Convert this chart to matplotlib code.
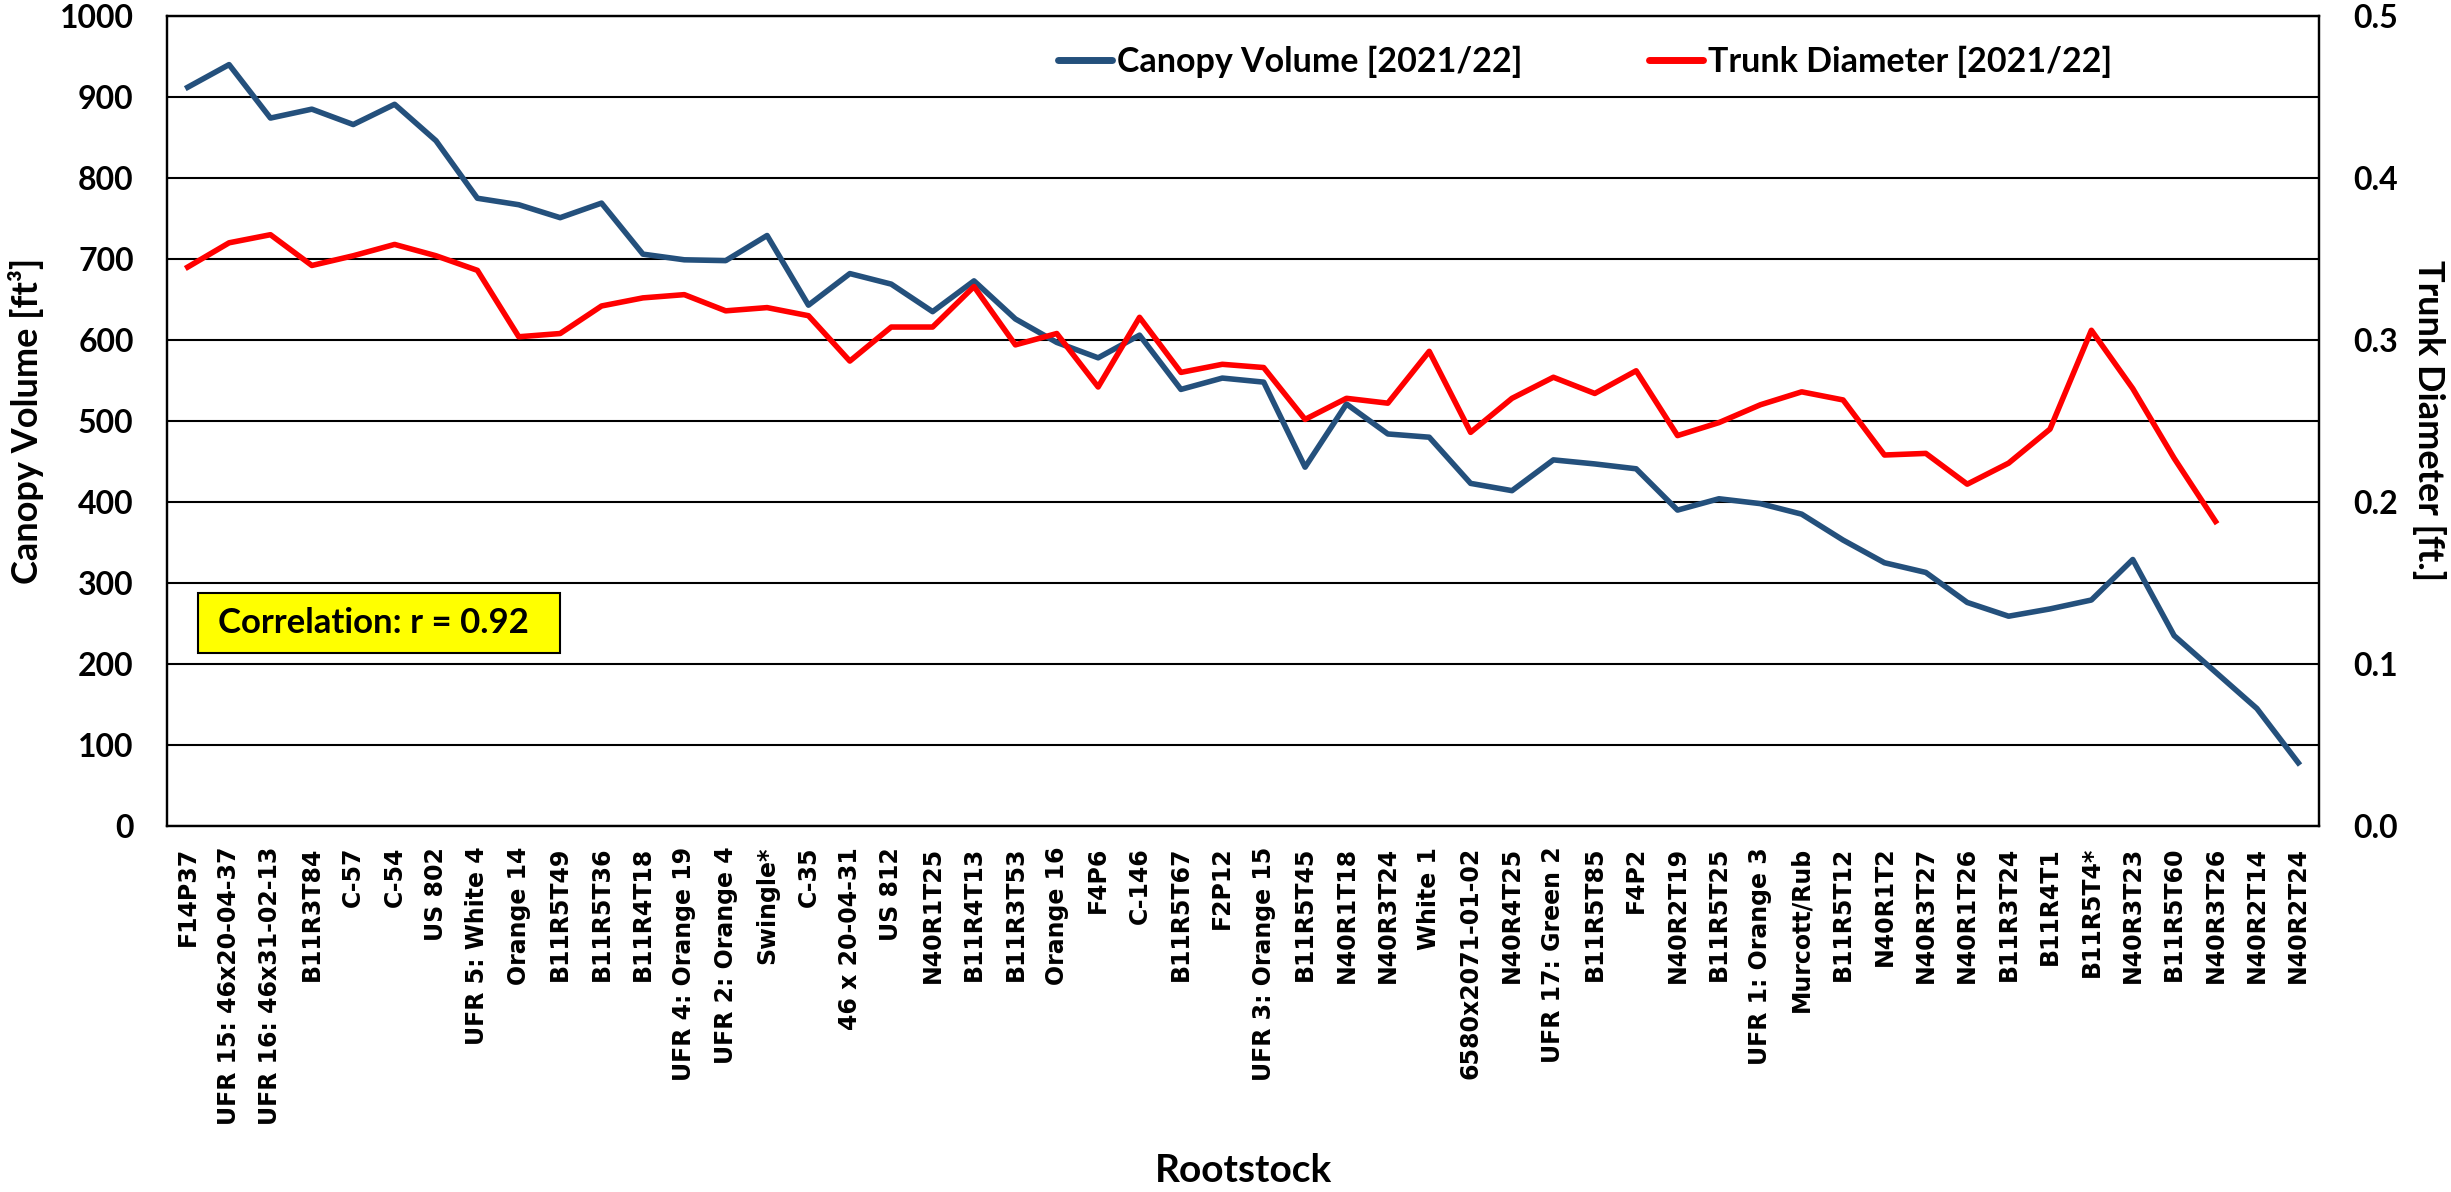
import numpy as np
import matplotlib
matplotlib.use("Agg")
import matplotlib.pyplot as plt
from matplotlib.lines import Line2D
from matplotlib.patches import Rectangle

plt.rcParams['font.family'] = ['Lato', 'DejaVu Sans']
plt.rcParams['font.weight'] = 'bold'

rootstocks = [
    "F14P37", "UFR 15: 46x20-04-37", "UFR 16: 46x31-02-13", "B11R3T84", "C-57",
    "C-54", "US 802", "UFR 5: White 4", "Orange 14", "B11R5T49",
    "B11R5T36", "B11R4T18", "UFR 4: Orange 19", "UFR 2: Orange 4", "Swingle*",
    "C-35", "46 x 20-04-31", "US 812", "N40R1T25", "B11R4T13",
    "B11R3T53", "Orange 16", "F4P6", "C-146", "B11R5T67",
    "F2P12", "UFR 3: Orange 15", "B11R5T45", "N40R1T18", "N40R3T24",
    "White 1", "6580x2071-01-02", "N40R4T25", "UFR 17: Green 2", "B11R5T85",
    "F4P2", "N40R2T19", "B11R5T25", "UFR 1: Orange 3", "Murcott/Rub",
    "B11R5T12", "N40R1T2", "N40R3T27", "N40R1T26", "B11R3T24",
    "B11R4T1", "B11R5T4*", "N40R3T23", "B11R5T60", "N40R3T26",
    "N40R2T14", "N40R2T24",
]

# canopy volume [ft3], left axis
canopy = [912, 940, 874, 885, 866, 891, 846, 775, 767, 751,
          769, 706, 699, 698, 729, 643, 682, 669, 635, 673,
          626, 597, 578, 606, 539, 553, 548, 443, 521, 484,
          480, 423, 414, 452, 447, 441, 390, 404, 398, 385,
          353, 325, 313, 276, 259, 268, 279, 329, 235, 190,
          145, 78]

# trunk diameter [ft], right axis (no value for last two)
trunk = [0.345, 0.360, 0.365, 0.346, 0.352, 0.359, 0.352, 0.343, 0.302, 0.304,
         0.321, 0.326, 0.328, 0.318, 0.320, 0.315, 0.287, 0.308, 0.308, 0.333,
         0.297, 0.304, 0.271, 0.314, 0.280, 0.285, 0.283, 0.251, 0.264, 0.261,
         0.293, 0.243, 0.264, 0.277, 0.267, 0.281, 0.241, 0.249, 0.260, 0.268,
         0.263, 0.229, 0.230, 0.211, 0.224, 0.245, 0.306, 0.270, 0.227, 0.188,
         np.nan, np.nan]

left_ticks = list(range(0, 1001, 100))
right_ticks = [0.0, 0.1, 0.2, 0.3, 0.4, 0.5]

blue = '#24507c'
red = '#ff0000'

W, H = 2451, 1192
fig = plt.figure(figsize=(W / 100, H / 100), dpi=100)
x0, x1, y0, y1 = 167, 2319, 16, 826
ax = fig.add_axes([x0 / W, (H - y1) / H, (x1 - x0) / W, (y1 - y0) / H])
ax2 = ax.twinx()

x = np.arange(len(rootstocks))
ax.plot(x, canopy, color=blue, lw=4.0, solid_joinstyle='round', zorder=3)
ax2.plot(x, trunk, color=red, lw=4.0, solid_joinstyle='round', zorder=3)

ax.set_xlim(-0.5, len(rootstocks) - 0.5)
ax.set_ylim(0, 1000)
ax2.set_ylim(0, 0.5)
ax.set_yticks(left_ticks)
ax2.set_yticks(right_ticks)
ax2.set_yticklabels([f"{t:.1f}" for t in right_ticks])
ax.grid(axis='y', color='black', lw=1.5, zorder=1)
ax.set_axisbelow(True)

ax.set_xticks(x)
ax.set_xticklabels(rootstocks, rotation=90, fontfamily='DejaVu Sans',
                   fontweight='bold', fontsize=17)
ax.tick_params(axis='x', length=0, pad=15)
ax.tick_params(axis='y', length=0, pad=24, labelsize=23)
ax2.tick_params(axis='y', length=0, pad=25, labelsize=23)

for a in (ax, ax2):
    for s in a.spines.values():
        s.set_color('black')
        s.set_linewidth(1.6)

ax.set_ylabel("Canopy Volume [ft³]", fontsize=26, fontweight='bold', va='center')
ax.yaxis.set_label_coords((26 - x0) / (x1 - x0), 0.5)
ax2.set_ylabel("Trunk Diameter [ft.]", fontsize=26, fontweight='bold',
               rotation=270, va='center')
ax2.yaxis.set_label_coords((2429 - x0) / (x1 - x0), 0.5)
ax.set_xlabel("Rootstock", fontsize=28, fontweight='bold', va='center')
ax.xaxis.set_label_coords(0.5, (y1 - 1170) / (y1 - y0))

handles = [Line2D([], [], color=blue, lw=5, solid_capstyle='round'),
           Line2D([], [], color=red, lw=5, solid_capstyle='round')]
ax2.legend(handles, ["Canopy Volume [2021/22]", "Trunk Diameter [2021/22]"],
           ncol=2, loc='center', bbox_to_anchor=(0.659, 0.943), frameon=False,
           fontsize=24.5, handlelength=1.6, handletextpad=0.15, columnspacing=3.7)

# correlation box
ax.add_patch(Rectangle((0.0144, 0.2136), 0.1682, 0.0741, transform=ax.transAxes,
                       facecolor='#ffff00', edgecolor='black', lw=1.5, zorder=4))
ax.text(0.0237, 0.2506, "Correlation: r = 0.92", transform=ax.transAxes,
        fontsize=25, fontweight='bold', va='center', ha='left', zorder=5)

fig.savefig("out.png", dpi=100)
